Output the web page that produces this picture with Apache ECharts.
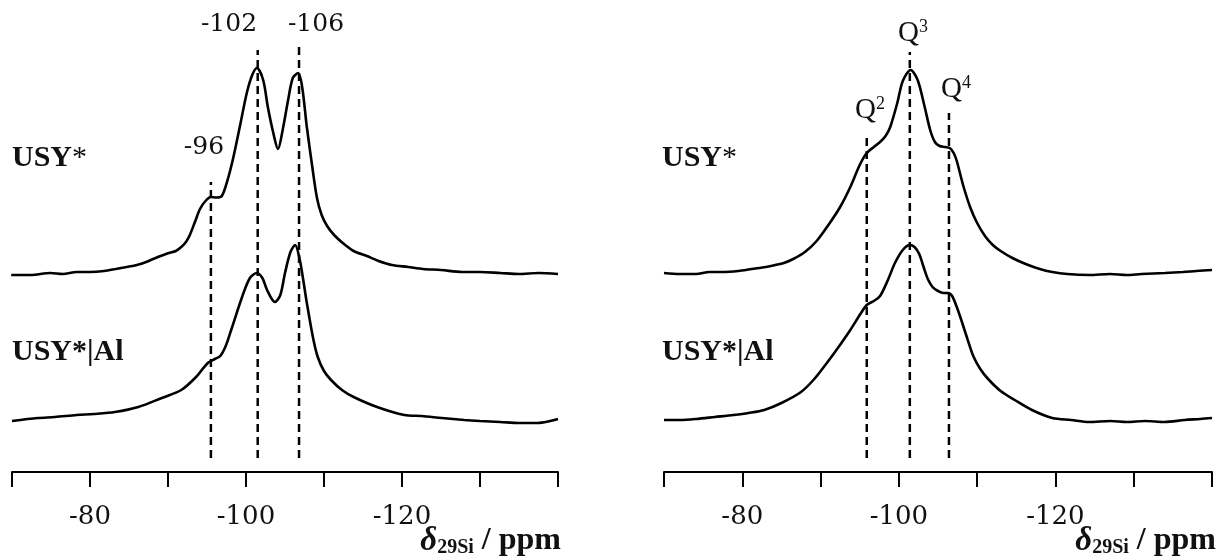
<!DOCTYPE html>
<html><head><meta charset="utf-8">
<script src="https://cdn.jsdelivr.net/npm/echarts@6/dist/echarts.min.js"></script>
<style>html,body{margin:0;padding:0;background:#fff}#c{width:1225px;height:558px}</style>
</head><body><div id="c"></div>
<script>
// ---- data: [ppm, intensity (a.u., baseline ~0)] ----
const leftUSY = [[-69.9,-2],[-72.4,-2],[-74.9,0],[-76.5,-1],[-78.3,1],[-80,1],[-81.8,2],[-83.3,4],[-84.7,6],[-86,8],[-87.2,11],[-88.7,16],[-90.1,20],[-91,22],[-91.7,26],[-92.3,31],[-92.8,38],[-93.5,52],[-94.1,64],[-94.8,72],[-95.5,76],[-96.2,75.5],[-96.9,77],[-97.6,92],[-98.3,113],[-99.2,146],[-100.1,180],[-100.8,198],[-101.4,205],[-102.2,193],[-102.8,166],[-103.5,140],[-104.1,124],[-104.7,143],[-105.4,173],[-106.0,195],[-106.7,200],[-107.2,186],[-107.8,146],[-108.5,106],[-109.1,75],[-109.7,58],[-110.4,47],[-111.3,38],[-112.4,30],[-113.8,22],[-115.5,17],[-117,12],[-118.7,8],[-120.8,6],[-122.7,4],[-125,3],[-127.7,1],[-130,1],[-132.6,0],[-135,-1],[-137.5,0],[-140,-1]];
const leftUSYAl = [[-70,-1],[-73.3,2],[-75.5,3],[-78.3,5],[-80.5,6],[-83.2,8],[-86.2,13],[-89.2,22],[-91.7,30],[-93.6,43],[-95.1,57],[-96,61],[-96.7,64],[-97.4,74],[-98.1,90],[-99.5,123],[-100.5,142],[-101.4,147],[-102.1,142],[-102.7,130],[-103.7,118],[-104.4,125],[-105.0,147],[-105.7,168],[-106.3,175],[-106.9,160],[-107.3,142],[-107.8,117],[-108.6,82],[-109.2,63],[-110.0,49],[-110.9,40],[-112.3,30],[-113.8,23],[-116.8,13],[-120.3,5],[-122.5,4],[-125.1,2],[-128,0],[-130,-1],[-132.6,-2],[-135,-3],[-137.4,-3],[-139,-1],[-140,1]];
const rightUSY = [[-70,0],[-72,-1],[-74.1,-1],[-75.8,1],[-77.4,1],[-79.5,2],[-81.2,4],[-83,6],[-84.2,8],[-85.3,10],[-86.5,14],[-88,21],[-89.5,32],[-91,48],[-92.5,66],[-93.8,86],[-95,108],[-95.9,120],[-96.8,126],[-97.6,131],[-98.3,137],[-98.9,146],[-99.8,170],[-100.5,192],[-101.5,203],[-102.4,193],[-103.3,166],[-104.0,143],[-104.6,131],[-105.2,127],[-105.9,126],[-106.5,125],[-107.0,120],[-107.4,112],[-108.2,88],[-109.1,66],[-110,50],[-111,37],[-112,28],[-113,22],[-114.5,15],[-116.2,9],[-118,4],[-119.6,1],[-121.5,-1],[-124.3,-2],[-127,-1],[-129.1,-2],[-131,-1],[-134,0],[-136.3,1],[-138,2],[-140,3]];
const rightUSYAl = [[-70,0],[-72,0],[-74.1,1],[-76.5,3],[-78.9,5],[-80.8,7],[-82.8,10],[-85,17],[-87.5,28],[-89.2,41],[-90.8,57],[-92.3,73],[-93.8,90],[-95.0,105],[-95.9,115],[-96.8,119],[-97.6,124],[-98.6,140],[-99.5,157],[-100.5,170],[-101.4,175],[-102.0,173],[-102.6,166],[-103.2,152],[-103.7,141],[-104.3,133],[-105.0,129],[-105.7,127],[-106.3,127],[-106.8,124],[-107.4,113],[-108.1,97],[-108.8,80],[-109.5,64],[-110.4,51],[-111.4,41],[-113,29],[-114.8,20],[-117,10],[-119.6,2],[-122,0],[-124.3,-2],[-127,-1],[-129.1,-2],[-131.5,-1],[-133.9,-2],[-136.5,0],[-138.5,1],[-140,2]];

// reference lines: ppm position and top extent (a.u. on the plot scale)
const leftRefPpm = [-95.5, -101.5, -106.8];
const leftRefTop = [290, 422, 427];
const leftRefLabels = ['-96', '-102', '-106'];
const rightRefPpm = [-95.9, -101.4, -106.4];
const rightRefTop = [335, 420, 359];
const rightRefLabels = ['2', '3', '4'];

const tickLabels = [-80, -100, -120];
const sampleNames = ['USY*', 'USY*|Al'];

// ---- layout constants ----
const OFFSET_TOP = 199, OFFSET_BOTTOM = 52, REF_BOTTOM = 14;
const shift = (arr, off) => arr.map(p => [p[0], p[1] + off]);

const chart = echarts.init(document.getElementById('c'));
const numFont = 'DejaVu Serif';
const serif = 'Liberation Serif';

function xAxis(i) {
  return {
    type: 'value', gridIndex: i, min: -140, max: -70, interval: 10, inverse: true,
    axisLine: {show: true, onZero: false, lineStyle: {color: '#000', width: 2}},
    axisTick: {show: true, length: 15, lineStyle: {color: '#000', width: 2}},
    splitLine: {show: false},
    axisLabel: {
      margin: 32, color: '#111', fontFamily: numFont, fontSize: 26,
      formatter: v => tickLabels.includes(v) ? String(v) : ''
    }
  };
}
function yAxis(i) { return {type: 'value', gridIndex: i, min: 0, max: 472, show: false}; }

const specStyle = {color: '#000', width: 2.6};
const dashStyle = {color: '#000', width: 2.5, type: [8, 5]};

const series = [];
function spec(data, off, gi) {
  series.push({type: 'line', xAxisIndex: gi, yAxisIndex: gi, data: shift(data, off),
    symbol: 'none', smooth: 0.3, lineStyle: specStyle, silent: true, clip: false});
}
spec(leftUSY, OFFSET_TOP, 0); spec(leftUSYAl, OFFSET_BOTTOM, 0);
spec(rightUSY, OFFSET_TOP, 1); spec(rightUSYAl, OFFSET_BOTTOM, 1);
leftRefPpm.forEach((p, k) => series.push({type: 'line', xAxisIndex: 0, yAxisIndex: 0,
  data: [[p, REF_BOTTOM], [p, leftRefTop[k]]], symbol: 'none', lineStyle: dashStyle, silent: true}));
rightRefPpm.forEach((p, k) => series.push({type: 'line', xAxisIndex: 1, yAxisIndex: 1,
  data: [[p, REF_BOTTOM], [p, rightRefTop[k]]], symbol: 'none', lineStyle: dashStyle, silent: true}));

function txt(x, y, text, style) {
  return {type: 'text', x: x, y: y, silent: true, style: Object.assign({text: text, fill: '#111'}, style)};
}
const graphics = [];
// sample labels
[12, 662].forEach(x => {
  graphics.push(txt(x, 158, '{a|USY}{b|*}', {align: 'left', verticalAlign: 'middle',
    rich: {a: {fontFamily: serif, fontWeight: 'bold', fontSize: 30, fill: '#111'},
           b: {fontFamily: serif, fontSize: 30, fill: '#111'}}}));
  graphics.push(txt(x, 352, sampleNames[1], {align: 'left', verticalAlign: 'middle',
    fontFamily: serif, fontWeight: 'bold', fontSize: 30}));
});
// axis titles
[561, 1216].forEach(x => {
  graphics.push(txt(x, 541, '{d|δ}{s|29Si}{t| / ppm}', {align: 'right', verticalAlign: 'middle',
    rich: {d: {fontFamily: serif, fontWeight: 'bold', fontStyle: 'italic', fontSize: 33, lineHeight: 34, fill: '#111'},
           s: {fontFamily: serif, fontWeight: 'bold', fontSize: 20, lineHeight: 30, verticalAlign: 'bottom', fill: '#111'},
           t: {fontFamily: serif, fontWeight: 'bold', fontSize: 32, lineHeight: 34, fill: '#111'}}}));
});
// ppm labels (left)
const leftLabelPos = [[204, 147], [229, 24], [316, 24]];
leftRefLabels.forEach((t, k) => graphics.push(txt(leftLabelPos[k][0], leftLabelPos[k][1], t,
  {align: 'center', verticalAlign: 'middle', fontFamily: numFont, fontSize: 25})));
// Q labels (right)
const rightLabelPos = [[870, 110], [913, 33], [956, 89]];
rightRefLabels.forEach((t, k) => graphics.push(txt(rightLabelPos[k][0], rightLabelPos[k][1], '{q|Q}{s|' + t + '}',
  {align: 'center', verticalAlign: 'middle',
   rich: {q: {fontFamily: serif, fontSize: 29, lineHeight: 30, fill: '#111'},
          s: {fontFamily: serif, fontSize: 18, lineHeight: 18, verticalAlign: 'top', fill: '#111'}}})));

chart.setOption({
  animation: false,
  backgroundColor: '#fff',
  grid: [{left: 12, width: 546, top: 0, height: 472}, {left: 664, width: 548, top: 0, height: 472}],
  xAxis: [xAxis(0), xAxis(1)],
  yAxis: [yAxis(0), yAxis(1)],
  series: series,
  graphic: graphics
});
</script></body></html>
